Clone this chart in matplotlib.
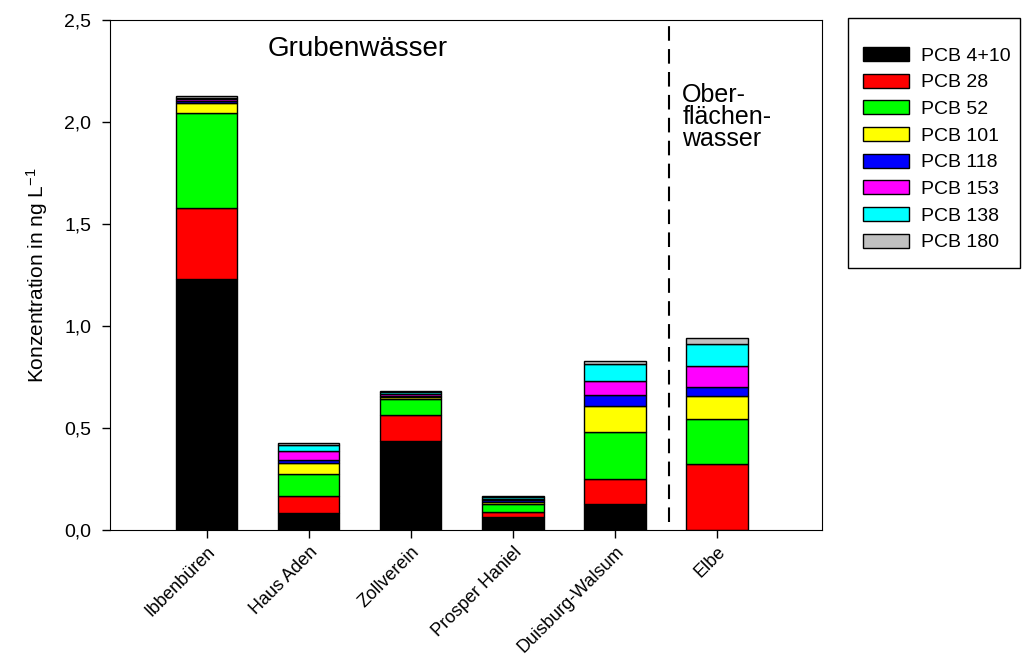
import matplotlib.pyplot as plt
import matplotlib.patches as patches
import numpy as np

plt.rcParams["font.family"] = ["Liberation Sans", "DejaVu Sans"]
plt.rcParams["mathtext.default"] = "regular"

# sampling sites
sites = ["Ibbenbüren", "Haus Aden", "Zollverein", "Prosper Haniel", "Duisburg-Walsum", "Elbe"]

# congener concentrations in ng/L, stacked bottom to top
pcb_4_10 = [1.230, 0.082, 0.436, 0.062, 0.127, 0.000]
pcb_28 = [0.348, 0.085, 0.128, 0.028, 0.123, 0.322]
pcb_52 = [0.466, 0.108, 0.077, 0.037, 0.232, 0.222]
pcb_101 = [0.049, 0.055, 0.009, 0.010, 0.127, 0.113]
pcb_118 = [0.009, 0.012, 0.009, 0.008, 0.051, 0.045]
pcb_153 = [0.009, 0.045, 0.008, 0.008, 0.069, 0.102]
pcb_138 = [0.008, 0.028, 0.008, 0.008, 0.085, 0.108]
pcb_180 = [0.008, 0.010, 0.008, 0.007, 0.014, 0.028]

series = [pcb_4_10, pcb_28, pcb_52, pcb_101, pcb_118, pcb_153, pcb_138, pcb_180]
labels = ["PCB 4+10", "PCB 28", "PCB 52", "PCB 101", "PCB 118", "PCB 153", "PCB 138", "PCB 180"]
colors = ["#000000", "#ff0000", "#00ff00", "#ffff00", "#0000ff", "#ff00ff", "#00ffff", "#c0c0c0"]

fig = plt.figure(figsize=(10.23, 6.62), dpi=100)
ax = fig.add_axes([0.1075, 0.1994, 0.696, 0.7704])

x = np.arange(len(sites))
bottom = np.zeros(len(sites))
handles = []
for vals, lab, col in zip(series, labels, colors):
    b = ax.bar(x, vals, 0.6, bottom=bottom, color=col, edgecolor="black",
               linewidth=1.0, label=lab)
    handles.append(b)
    bottom += np.array(vals)

# separator between mine water and surface water
ax.axvline(4.53, ymin=0.015, ymax=1.0, color="black", linewidth=1.5, dashes=(7, 4))

ax.text(1.48, 2.36, "Grubenwässer", fontsize=20, ha="center", va="center")
ax.text(4.66, 2.19, "Ober-\nflächen-\nwasser", fontsize=18, ha="left", va="top",
        linespacing=0.9)

ax.set_xlim(-0.95, 6.03)
ax.set_ylim(0, 2.5)
ax.set_yticks([0, 0.5, 1.0, 1.5, 2.0, 2.5])
ax.set_yticklabels(["0,0", "0,5", "1,0", "1,5", "2,0", "2,5"], fontsize=14)
ax.set_xticks(x)
ax.set_xticklabels(sites, rotation=45, ha="right", rotation_mode="anchor", fontsize=13)
ax.tick_params(direction="out", length=6, width=1)
ax.tick_params(axis="y", pad=7.5)
ax.set_ylabel("Konzentration in ng L$^{-1}$", fontsize=15, labelpad=10)

# legend frame drawn separately
fig.patches.append(patches.Rectangle((0.829, 0.5952), 0.168, 0.3776, transform=fig.transFigure,
                                     facecolor="white", edgecolor="black", linewidth=1.0, zorder=0))
fig.legend(handles=handles, labels=labels, loc="upper left", bbox_to_anchor=(0.8436, 0.929),
           fontsize=14, frameon=False, handlelength=2.37, handleheight=0.72,
           handletextpad=0.62, labelspacing=0.46, borderpad=0, borderaxespad=0)

fig.savefig("out.png", dpi=100)
